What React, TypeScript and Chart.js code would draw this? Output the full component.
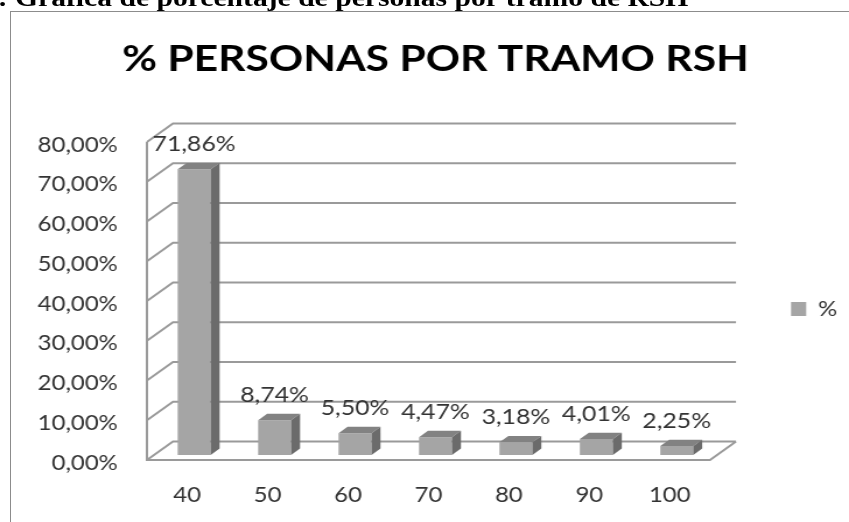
import React, { useEffect, useRef } from 'react';
import { Chart, registerables } from 'chart.js';

Chart.register(...registerables);

// ---- data ----
const categories = ['40', '50', '60', '70', '80', '90', '100'];
const values = [71.86, 8.74, 5.5, 4.47, 3.18, 4.01, 2.25];
const seriesName = '%';
const chartTitle = '% PERSONAS POR TRAMO RSH';
const captionText = 'Figura 1: Gráfica de porcentaje de personas por tramo de RSH';
const yMin = 0;
const yMax = 80;
const yStep = 10;

// ---- style ----
const INTERNAL_W = 728;
const H = 522;
const SX = 849 / INTERNAL_W;
const FONT = 'Lato';
const TEXT = '#333333';
const GRID = '#9a9a9a';
const FRONT = '#a5a5a5';
const TOPC = '#828282';
const SIDE = '#6b6b6b';

const fmt = (v: number) => v.toFixed(2).replace('.', ',') + '%';

// 3D offsets relative to the plane of the bar front faces
const FRONT_DX = -6;
const FRONT_DY = 5;
const BACK_DX = 16.3;
const BACK_DY = -13.5;
const BAR_DX = 7.7;
const BAR_DY = -6.4;

const walls3d = {
  id: 'walls3d',
  beforeDatasetsDraw(chart: any) {
    const { ctx, chartArea, scales } = chart;
    const { left, right } = chartArea;
    const y = scales.y;
    ctx.save();
    ctx.strokeStyle = GRID;
    ctx.lineWidth = 2;
    ctx.beginPath();
    y.ticks.forEach((t: any) => {
      const py = y.getPixelForValue(t.value);
      ctx.moveTo(left + FRONT_DX, py + FRONT_DY);
      ctx.lineTo(left + BACK_DX, py + BACK_DY);
      ctx.lineTo(right + BACK_DX, py + BACK_DY);
    });
    const p0 = y.getPixelForValue(yMin);
    const pT = y.getPixelForValue(yMax);
    ctx.moveTo(left + FRONT_DX, pT + FRONT_DY);
    ctx.lineTo(left + FRONT_DX, p0 + FRONT_DY);
    ctx.lineTo(right + FRONT_DX, p0 + FRONT_DY);
    ctx.lineTo(right + BACK_DX, p0 + BACK_DY);
    ctx.stroke();
    ctx.restore();
  },
};

const bars3d = {
  id: 'bars3d',
  afterDatasetsDraw(chart: any) {
    const { ctx } = chart;
    const meta = chart.getDatasetMeta(0);
    ctx.save();
    meta.data.forEach((el: any, i: number) => {
      const { x, y, base, width } = el.getProps(['x', 'y', 'base', 'width'], true);
      const l = x - width / 2;
      const r = x + width / 2;
      ctx.fillStyle = TOPC;
      ctx.beginPath();
      ctx.moveTo(l, y);
      ctx.lineTo(r, y);
      ctx.lineTo(r + BAR_DX, y + BAR_DY);
      ctx.lineTo(l + BAR_DX, y + BAR_DY);
      ctx.closePath();
      ctx.fill();
      ctx.fillStyle = SIDE;
      ctx.beginPath();
      ctx.moveTo(r, y);
      ctx.lineTo(r + BAR_DX, y + BAR_DY);
      ctx.lineTo(r + BAR_DX, base + BAR_DY);
      ctx.lineTo(r, base);
      ctx.closePath();
      ctx.fill();
      ctx.fillStyle = TEXT;
      ctx.font = `21.3px ${FONT}`;
      ctx.textAlign = 'center';
      ctx.textBaseline = 'middle';
      ctx.fillText(fmt(values[i]), x, y - 25);
    });
    ctx.restore();
  },
};

export default function App() {
  const ref = useRef<HTMLCanvasElement | null>(null);

  useEffect(() => {
    if (!ref.current) return;
    const chart = new Chart(ref.current, {
      type: 'bar',
      data: {
        labels: categories,
        datasets: [
          {
            label: seriesName,
            data: values,
            backgroundColor: FRONT,
            borderWidth: 0,
            barPercentage: 0.41,
            categoryPercentage: 1,
          },
        ],
      },
      options: {
        animation: false,
        responsive: false,
        devicePixelRatio: 1,
        events: [],
        layout: { padding: { left: 21.8, right: 3, top: 0, bottom: 7 } },
        plugins: {
          tooltip: { enabled: false },
          title: {
            display: true,
            text: chartTitle,
            color: '#000000',
            font: { family: FONT, weight: 'bold', size: 36.5, lineHeight: 1.2 },
            padding: { top: 36.9, bottom: 56.3 },
          },
          legend: {
            position: 'right',
            align: 'center',
            fullSize: false,
            maxWidth: 110.2,
            title: { display: true, text: '', font: { size: 10, lineHeight: 1.2 }, padding: 7 },
            labels: {
              boxWidth: 13,
              boxHeight: 14,
              padding: 63.5,
              color: TEXT,
              font: { family: FONT, size: 20.5 },
            },
          },
        },
        scales: {
          x: {
            grid: { display: false, drawTicks: false },
            border: { display: false },
            ticks: {
              color: TEXT,
              font: { family: FONT, size: 20.5 },
              padding: 28.5,
              labelOffset: FRONT_DX,
              maxRotation: 0,
            },
            afterFit: (s: any) => {
              s.height = 60;
            },
          },
          y: {
            min: yMin,
            max: yMax,
            grid: { display: false, drawTicks: false },
            border: { display: false },
            ticks: {
              stepSize: yStep,
              color: TEXT,
              font: { family: FONT, size: 20.5 },
              padding: 31,
              labelOffset: 8,
              callback: (v: any) => fmt(Number(v)),
            },
            afterFit: (s: any) => {
              s.width = 110.2;
            },
          },
        },
      },
      plugins: [walls3d, bars3d],
    } as any);
    return () => chart.destroy();
  }, []);

  return (
    <div style={{ position: 'fixed', left: 0, top: 0, width: 849, height: 522, overflow: 'hidden', background: '#fff' }}>
      <div
        style={{
          position: 'absolute',
          left: 10,
          top: 11,
          width: 900,
          height: 600,
          borderLeft: '1px solid #8c8c8c',
          borderTop: '1px solid #8c8c8c',
        }}
      />
      <canvas
        ref={ref}
        width={INTERNAL_W}
        height={H}
        style={{ position: 'absolute', left: 0, top: 0, width: '849px', height: '522px' }}
      />
      <div
        style={{
          position: 'absolute',
          left: -110,
          top: -14.6,
          whiteSpace: 'nowrap',
          fontFamily: '"Liberation Serif", "Times New Roman", serif',
          fontWeight: 'bold',
          fontSize: 25.4,
          lineHeight: '25px',
          color: '#000',
          transform: `scaleX(${SX})`,
          transformOrigin: 'left top',
        }}
      >
        {captionText}
      </div>
    </div>
  );
}
